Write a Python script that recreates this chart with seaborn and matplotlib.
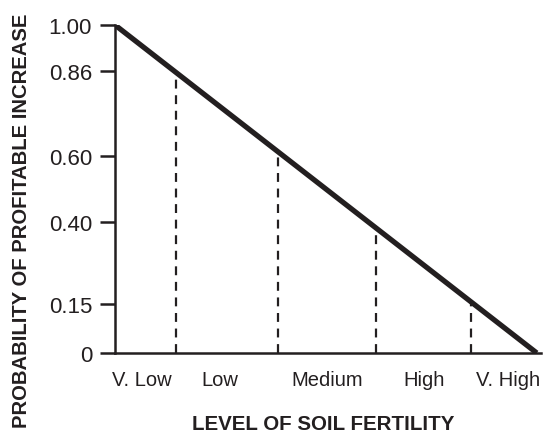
import matplotlib
matplotlib.use("Agg")
import matplotlib.pyplot as plt
import seaborn as sns
import pandas as pd

sns.set_theme(style="white")

# ---- data ----
line_x = [0.0, 1.0]
line_y = [1.00, 0.00]
boundary_x = [0.145, 0.386, 0.618, 0.844]
boundary_y = [0.855, 0.614, 0.382, 0.156]
yticks = [0, 0.15, 0.40, 0.60, 0.86, 1.00]
ytick_labels = ["0", "0.15", "0.40", "0.60", "0.86", "1.00"]
categories = ["V. Low", "Low", "Medium", "High", "V. High"]
category_x = [0.063, 0.249, 0.502, 0.732, 0.931]

ink = "#231f20"
plt.rcParams["font.family"] = ["Liberation Sans", "DejaVu Sans"]

fig = plt.figure(figsize=(5.43, 4.35), dpi=100)
ax = fig.add_axes([115 / 543, 1 - 354 / 435, (541 - 115) / 543, (354 - 26) / 435])

df = pd.DataFrame({"x": line_x, "y": line_y})
sns.lineplot(data=df, x="x", y="y", ax=ax, color=ink, linewidth=3.8,
             solid_capstyle="butt")

for bx, by in zip(boundary_x, boundary_y):
    ax.plot([bx, bx], [0, by], color=ink, linewidth=1.6, linestyle=(0, (4, 3)))

ax.set_xlim(0, 1.01)
ax.set_ylim(0, 1.0)
ax.set_yticks(yticks)
ax.set_yticklabels(ytick_labels, fontsize=16, color=ink)
ax.set_xticks(category_x)
ax.set_xticklabels(categories, fontsize=14.5, color=ink)
ax.tick_params(axis="y", direction="out", length=10.5, width=1.8, color=ink, pad=6, left=True)
ax.tick_params(axis="x", length=0, pad=12)
ax.set_xlabel("")
ax.set_ylabel("")

for side in ["top", "right"]:
    ax.spines[side].set_visible(False)
for side in ["left", "bottom"]:
    ax.spines[side].set_color(ink)
    ax.spines[side].set_linewidth(1.8)
ax.grid(False)

# axis titles as figure text, sized to match the reference lengths
xl = fig.text(323 / 543, 1 - 425 / 435, "LEVEL OF SOIL FERTILITY", fontsize=15,
              fontweight="bold", color=ink, ha="center", va="center")
yl = fig.text(22 / 543, 1 - 221 / 435, "PROBABILITY OF PROFITABLE INCREASE", fontsize=15,
              fontweight="bold", color=ink, ha="center", va="center", rotation=90)

renderer = fig.canvas.get_renderer()
for t, target, dim in [(xl, 262, "w"), (yl, 415, "h")]:
    bb = t.get_window_extent(renderer)
    cur = bb.width if dim == "w" else bb.height
    t.set_fontsize(15 * target / cur)

fig.savefig("out.png", dpi=100)
